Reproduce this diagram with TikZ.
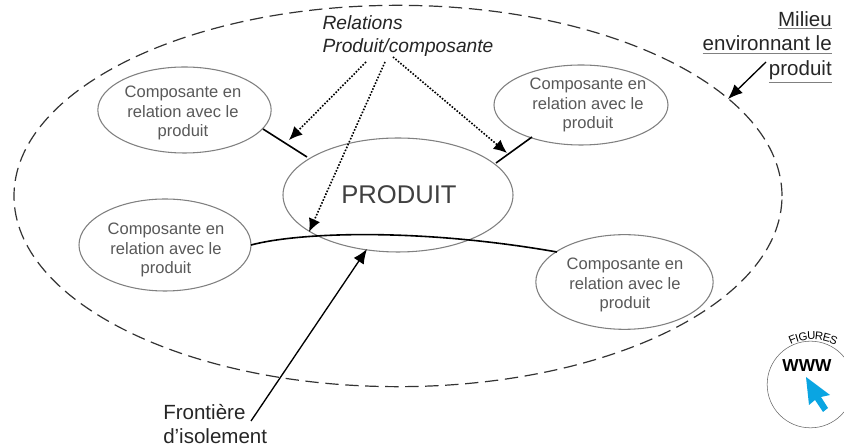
\documentclass[tikz,border=0pt]{standalone}
\usepackage{fontspec}
\setmainfont{Liberation Sans}
\usetikzlibrary{arrows.meta,shapes.geometric}
\definecolor{ell}{gray}{0.5}
\definecolor{txt}{gray}{0.35}
\definecolor{wwwblue}{HTML}{0AA5E2}
\newcommand{\ul}[1]{{\color{gray}\underline{\color{black!85}#1}}}
\tikzset{
  x=0.75pt,y=-0.75pt,
  comp/.style={draw=ell,line width=0.8pt,ellipse,inner sep=0pt},
  comptext/.style={inner sep=0pt,align=center,font=\fontsize{12.4}{14.6}\selectfont,text=txt},
  link/.style={black,line width=1.2pt},
  dots/.style={black,line width=1.2pt,dash pattern=on 1.2pt off 1.2pt,-{Latex[length=10pt,width=9pt]}},
  solidarrow/.style={black,line width=1pt,-{Latex[length=11pt,width=9pt]}},
  lbl/.style={inner sep=0pt,align=left,text=black!85}
}
\begin{document}
\begin{tikzpicture}
\useasboundingbox (0,0) rectangle (844,448);
\fill[white] (0,0) rectangle (844,448);
\begin{scope}
\clip (0,0) rectangle (844,448);
\node[draw=black!80,dash pattern=on 10pt off 5pt,line width=0.9pt,ellipse,minimum width=576pt,minimum height=286pt,inner sep=0pt] (milieu) at (398,196) {};
\node[comp,minimum width=172.5pt,minimum height=85.5pt,font=\fontsize{19.2}{22}\selectfont,text=black!75] (prod) at (398,195) {\hspace{1.5pt}PRODUIT};
\node[comp,minimum width=130pt,minimum height=64.5pt] (a) at (184.5,110) {};
\node[comp,minimum width=130.5pt,minimum height=60pt] (b) at (581,105) {};
\node[comp,minimum width=129pt,minimum height=69pt] (c) at (165,245) {};
\node[comp,minimum width=133pt,minimum height=71pt] (d) at (624.5,282) {};
\node[comptext] (at) at (183,113) {Composante en\\relation avec le\\produit};
\node[comptext] (bt) at (588,105) {Composante en\\relation avec le\\produit};
\node[comptext] (ct) at (166,250) {Composante en\\relation avec le\\produit};
\node[comptext] (dt) at (625,285) {Composante en\\relation avec le\\produit};
\coordinate (la1) at (263,129);
\coordinate (la2) at (307,157);
\coordinate (lb1) at (532,137);
\coordinate (lb2) at (496,163);
\coordinate (lc1) at (251,245);
\coordinate (ld1) at (557,252);
\draw[link] (la1) -- (la2);
\draw[link] (lb1) -- (lb2);
\draw[link] (lc1) .. controls (300,232) and (420,228) .. (ld1);
\node[lbl,font=\fontsize{14.4}{17.3}\selectfont\itshape] (rel) at (408,36) {Relations\\Produit/composante};
\coordinate (r1) at (366,62);
\coordinate (r2) at (385,62);
\coordinate (r3) at (393,57);
\coordinate (t1) at (289,140);
\coordinate (t2) at (309,232);
\coordinate (t3) at (507,153);
\draw[dots] (r1) -- (t1);
\draw[dots] (r2) -- (t2);
\draw[dots] (r3) -- (t3);
\node[lbl,align=right,anchor=north east,font=\fontsize{15.4}{18.6}\selectfont] (mil) at (832,11) {\ul{Milieu}\\\ul{environnant le}\\\ul{produit}};
\coordinate (m1) at (766,62);
\coordinate (m2) at (728,99);
\draw[solidarrow] (m1) -- (m2);
\node[lbl,anchor=west,font=\fontsize{15.4}{18}\selectfont] (fr) at (163,424) {Frontière\\d'isolement};
\coordinate (f1) at (251,421);
\coordinate (f2) at (367,249);
\draw[solidarrow] (f1) -- (f2);
\node[draw=black!60,line width=0.4pt,circle,minimum size=65pt,inner sep=0pt] (www) at (810.5,384.5) {};
\node[inner sep=0pt,font=\fontsize{13}{13}\selectfont\bfseries] (wt) at (807,366) {WWW};
\foreach \l/\a in {F/-22,I/-17,G/-10.6,U/-1.8,R/6.5,E/14.5,S/22}
  \node[inner sep=0pt,rotate=-\a,font=\fontsize{8.5}{8.5}\selectfont] (fig\l) at ({813+55*sin(\a)},{391-55*cos(\a)}) {\l};
\fill[wwwblue] (806,377) -- (830,395) -- (821,397) -- (828,408) -- (823,412) -- (815,400) -- (809,405) -- cycle;
\end{scope}
\end{tikzpicture}
\end{document}
